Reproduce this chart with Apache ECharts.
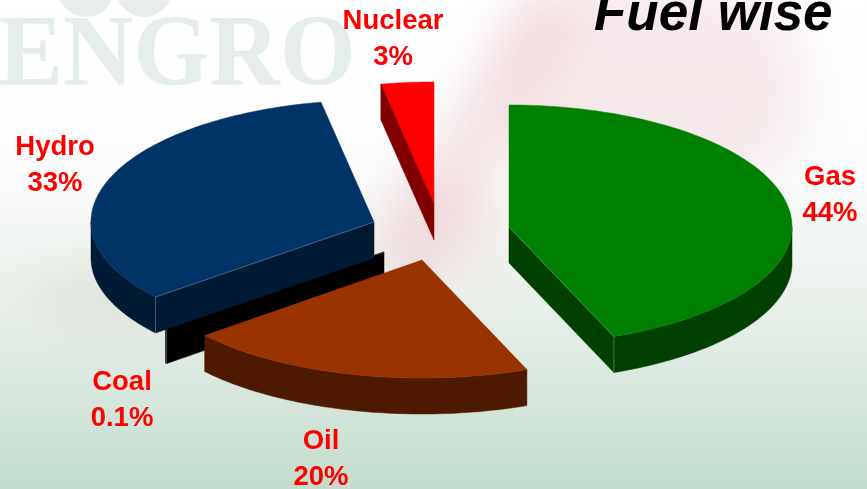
<!DOCTYPE html>
<html>
<head>
<meta charset="utf-8">
<title>Fuel wise</title>
<script src="https://cdn.jsdelivr.net/npm/echarts@6/dist/echarts.min.js"></script>
<style>
html, body { margin: 0; padding: 0; width: 867px; height: 489px; overflow: hidden; background: #fff; }
#back { position: absolute; left: 0; top: 0; width: 867px; height: 489px; overflow: hidden;
    background: linear-gradient(to bottom, #ffffff 0, #fbfcfb 180px, #e9f0ea 300px, #d6e6dc 400px, #c2dccd 489px); }
.blob { position: absolute; filter: blur(24px); }
#mainChart { position: absolute; left: 0; top: 0; width: 867px; height: 489px; }
</style>
</head>
<body>
<div id="back">
    <div class="blob" style="background:#edcdd2;left:500px;top:-20px;width:300px;height:210px;opacity:.42;border-radius:40%;"></div>
    <div class="blob" style="background:#edcdd2;left:450px;top:-30px;width:56px;height:330px;opacity:.6;transform:rotate(32deg);"></div>
    <div class="blob" style="background:#edcdd2;left:390px;top:170px;width:110px;height:110px;opacity:.4;border-radius:50%;"></div>
    <div class="blob" style="background:#d8d8d0;left:20px;top:260px;width:230px;height:70px;opacity:.5;border-radius:50%;"></div>
</div>
<div id="mainChart"></div>
<script>
var categories = ['Gas', 'Oil', 'Coal', 'Hydro', 'Nuclear'];
var shares = [44, 20, 0.1, 33, 3];
var shareLabels = ['44%', '20%', '0.1%', '33%', '3%'];
var titleText = 'Fuel wise';
var watermarkText = 'ENGRO';

// 每块的样式和位置（爆炸偏移）
var topColors = ['#008000', '#993300', '#000000', '#003366', '#ff0000'];
var wallColors = ['#004000', '#4d1a00', '#000000', '#001a33', '#800000'];
var edgeColors = ['#5f9f5f', '#4d1a00', '#666666', '#5f7f9f', '#800000'];
var centers = [[509, 227], [422, 260], [384, 252], [374, 222], [434, 204]];
var labelPos = [[830, 195], [321, 459], [122, 400], [55, 165], [393, 39]];
var layers = [3, 5, 1, 4, 2];
var rx = 283, ryBack = 122, ryFront = 118, depth = 36;

var total = shares.reduce(function (a, b) { return a + b; }, 0);
var starts = [];
shares.reduce(function (sum, v, i) { starts[i] = sum; return sum + v; }, 0);

function toRad(share) {
    return share / total * Math.PI * 2;
}
function rimPoint(c, a, dy) {
    var cos = Math.cos(a);
    return [c[0] + rx * Math.sin(a), c[1] - (cos > 0 ? ryBack : ryFront) * cos + (dy || 0)];
}
function arcPoints(c, a0, a1, dy) {
    var pts = [];
    var n = Math.max(2, Math.ceil((a1 - a0) / 0.02));
    for (var k = 0; k <= n; k++) {
        pts.push(rimPoint(c, a0 + (a1 - a0) * k / n, dy));
    }
    return pts;
}
function poly(points, color, z2) {
    return { type: 'polygon', silent: true, z2: z2, shape: { points: points }, style: { fill: color, stroke: color, lineWidth: 0.5 } };
}
function edge(points, color, z2) {
    return { type: 'polyline', silent: true, z2: z2, shape: { points: points }, style: { fill: null, stroke: color, lineWidth: 0.6 } };
}
function radialWall(c, a, i, z2) {
    var p = rimPoint(c, a);
    var q = rimPoint(c, a, depth);
    return [
        poly([[c[0], c[1]], p, q, [c[0], c[1] + depth]], wallColors[i], z2),
        edge([[c[0], c[1]], p, q], edgeColors[i], z2 + 2)
    ];
}

function renderSlice(params, api) {
    var i = params.dataIndex;
    var c = centers[i];
    var a0 = toRad(starts[i]);
    var a1 = a0 + toRad(api.value(1));
    var z = layers[i] * 10;
    var children = [];
    // 外弧侧面，只有朝前的部分看得见
    var w0 = Math.max(a0, Math.PI / 2), w1 = Math.min(a1, Math.PI * 1.5);
    if (w1 > w0) {
        children.push(poly(arcPoints(c, w0, w1).concat(arcPoints(c, w0, w1, depth).reverse()), wallColors[i], z));
    }
    // 径向侧面
    if (Math.sin(a0) < -1e-6) {
        children = children.concat(radialWall(c, a0, i, z + 1));
    }
    if (Math.sin(a1) > 1e-6) {
        children = children.concat(radialWall(c, a1, i, z + 1));
    }
    children.push(poly([c].concat(arcPoints(c, a0, a1)), topColors[i], z + 2));
    children.push({
        type: 'text',
        silent: true,
        z2: 100,
        style: {
            text: categories[i] + '\n' + shareLabels[i],
            x: labelPos[i][0],
            y: labelPos[i][1],
            fill: '#ff0000',
            font: 'bold 27.5px "Liberation Sans", Arial, sans-serif',
            lineHeight: 36,
            align: 'center',
            verticalAlign: 'middle'
        }
    });
    return { type: 'group', children: children };
}

var myChart = echarts.init(document.getElementById('mainChart'), null, { renderer: 'canvas' });
myChart.setOption({
    animation: false,
    backgroundColor: 'transparent',
    title: {
        text: titleText,
        left: 594,
        top: -11,
        padding: 0,
        textStyle: {
            color: '#000',
            fontFamily: '"Liberation Sans", Arial, sans-serif',
            fontStyle: 'italic',
            fontWeight: 'bold',
            fontSize: 53
        }
    },
    graphic: [
        { type: 'ellipse', silent: true, shape: { cx: 86, cy: -14, rx: 29, ry: 31 }, style: { fill: '#e8efeb' } },
        { type: 'ellipse', silent: true, shape: { cx: 144, cy: -14, rx: 29, ry: 31 }, style: { fill: '#e8efeb' } },
        {
            type: 'text',
            silent: true,
            scaleX: 0.92,
            scaleY: 0.96,
            x: -2,
            y: 110,
            style: {
                text: watermarkText,
                x: 0,
                y: 0,
                fill: '#e6eeea',
                font: 'bold 106px "Liberation Serif", serif',
                verticalAlign: 'bottom'
            }
        }
    ],
    series: [{
        type: 'custom',
        coordinateSystem: 'none',
        clip: false,
        data: categories.map(function (name, i) { return [i, shares[i]]; }),
        renderItem: renderSlice
    }]
});
</script>
</body>
</html>
